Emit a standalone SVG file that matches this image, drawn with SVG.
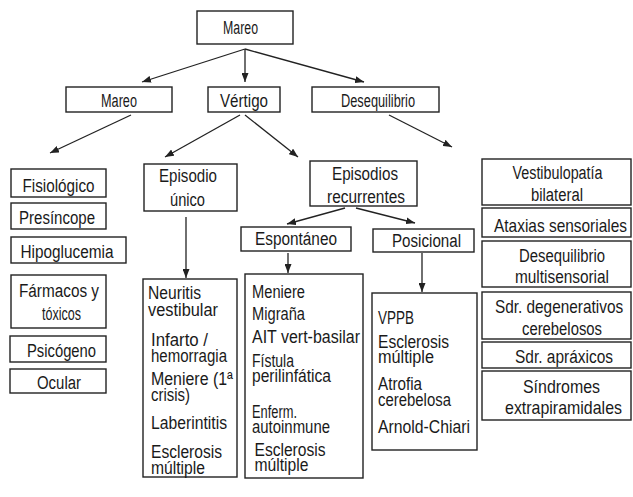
<svg xmlns="http://www.w3.org/2000/svg" width="633" height="497" viewBox="0 0 633 497">
<style>
rect{fill:#fff;stroke:#222;stroke-width:1.4}
text{font-family:"Liberation Sans",Arial,sans-serif;font-size:17.5px;fill:#1a1a1a}
.c{text-anchor:middle}
.h{font-size:18px}
#connectors line{stroke:#222;stroke-width:1.3;marker-end:url(#ah)}
</style>
<defs>
<marker id="ah" markerUnits="userSpaceOnUse" markerWidth="9" markerHeight="7" refX="9" refY="3.5" orient="auto">
<path d="M0,0 L9,3.5 L0,7 z" fill="#222"/>
</marker>
</defs>
<rect width="633" height="497" style="fill:#fff;stroke:none"/>
<g id="connectors">
<line x1="245" y1="49" x2="142" y2="82"/>
<line x1="245" y1="49" x2="245" y2="82"/>
<line x1="245" y1="49" x2="364" y2="82"/>
<line x1="131" y1="115" x2="50" y2="153"/>
<line x1="240" y1="115" x2="165" y2="157"/>
<line x1="245" y1="115" x2="298" y2="157"/>
<line x1="389" y1="115" x2="452" y2="147"/>
<line x1="186" y1="217" x2="186" y2="278"/>
<line x1="345" y1="208" x2="287" y2="224"/>
<line x1="356" y1="208" x2="415" y2="223"/>
<line x1="288" y1="253" x2="288" y2="273"/>
<line x1="422" y1="253" x2="422" y2="292"/>
</g>
<g id="n-mareo-top"><rect x="197" y="11" width="96" height="33"/><text class="h" x="223" y="34" textLength="35" lengthAdjust="spacingAndGlyphs">Mareo</text></g>
<g id="n-mareo"><rect x="66" y="87" width="106" height="25"/><text class="h c" x="119" y="107" textLength="36" lengthAdjust="spacingAndGlyphs">Mareo</text></g>
<g id="n-vertigo"><rect x="208" y="87" width="72" height="25"/><text class="h c" x="244" y="107" textLength="48" lengthAdjust="spacingAndGlyphs">Vértigo</text></g>
<g id="n-desequilibrio"><rect x="312" y="87" width="127" height="25"/><text class="h c" x="378" y="107" textLength="74" lengthAdjust="spacingAndGlyphs">Desequilibrio</text></g>
<g id="n-fisiologico"><rect x="11" y="169" width="95" height="28"/><text class="h c" x="58.5" y="192" textLength="72" lengthAdjust="spacingAndGlyphs">Fisiológico</text></g>
<g id="n-presincope"><rect x="11" y="203" width="95" height="26"/><text class="h c" x="57" y="224" textLength="76" lengthAdjust="spacingAndGlyphs">Presíncope</text></g>
<g id="n-hipoglucemia"><rect x="11" y="237" width="115" height="26"/><text class="h c" x="67" y="258" textLength="93" lengthAdjust="spacingAndGlyphs">Hipoglucemia</text></g>
<g id="n-farmacos"><rect x="11" y="275" width="95" height="53"/><text class="h c" x="59" y="297" textLength="80" lengthAdjust="spacingAndGlyphs">Fármacos y</text><text class="h c" x="61.5" y="320" textLength="39" lengthAdjust="spacingAndGlyphs">tóxicos</text></g>
<g id="n-psicogeno"><rect x="10" y="336" width="96" height="26"/><text class="h c" x="61.5" y="357" textLength="69" lengthAdjust="spacingAndGlyphs">Psicógeno</text></g>
<g id="n-ocular"><rect x="10" y="369" width="96" height="24"/><text class="h c" x="59" y="389" textLength="44" lengthAdjust="spacingAndGlyphs">Ocular</text></g>
<g id="n-episodio-unico"><rect x="144" y="164" width="93" height="47"/><text class="h c" x="188" y="182" textLength="58" lengthAdjust="spacingAndGlyphs">Episodio</text><text class="h c" x="187.5" y="206" textLength="35" lengthAdjust="spacingAndGlyphs">único</text></g>
<g id="n-episodios-recurrentes"><rect x="310" y="161" width="107" height="45"/><text class="h c" x="365" y="180" textLength="66" lengthAdjust="spacingAndGlyphs">Episodios</text><text class="h c" x="366" y="203" textLength="78" lengthAdjust="spacingAndGlyphs">recurrentes</text></g>
<g id="n-espontaneo"><rect x="241" y="227" width="110" height="24"/><text class="h c" x="296" y="245" textLength="82" lengthAdjust="spacingAndGlyphs">Espontáneo</text></g>
<g id="n-posicional"><rect x="373" y="229" width="101" height="23"/><text class="h c" x="426.5" y="247" textLength="69" lengthAdjust="spacingAndGlyphs">Posicional</text></g>
<g id="n-unico-list"><rect x="143" y="279" width="94" height="198"/>
<text x="148" y="299" textLength="53" lengthAdjust="spacingAndGlyphs">Neuritis</text>
<text x="148" y="316" textLength="70" lengthAdjust="spacingAndGlyphs">vestibular</text>
<text x="151" y="346" textLength="57" lengthAdjust="spacingAndGlyphs">Infarto /</text>
<text x="151" y="362" textLength="76" lengthAdjust="spacingAndGlyphs">hemorragia</text>
<text x="151" y="385" textLength="82" lengthAdjust="spacingAndGlyphs">Meniere (1ª</text>
<text x="151" y="401" textLength="39" lengthAdjust="spacingAndGlyphs">crisis)</text>
<text x="151" y="429" textLength="76" lengthAdjust="spacingAndGlyphs">Laberintitis</text>
<text x="151" y="458" textLength="71" lengthAdjust="spacingAndGlyphs">Esclerosis</text>
<text x="151" y="474" textLength="54" lengthAdjust="spacingAndGlyphs">múltiple</text>
</g>
<g id="n-espontaneo-list"><rect x="245" y="274" width="118" height="204"/>
<text x="252" y="298" textLength="53" lengthAdjust="spacingAndGlyphs">Meniere</text>
<text x="252" y="320" textLength="53" lengthAdjust="spacingAndGlyphs">Migraña</text>
<text x="252" y="343" textLength="108" lengthAdjust="spacingAndGlyphs">AIT vert-basilar</text>
<text x="252" y="367" textLength="42" lengthAdjust="spacingAndGlyphs">Fístula</text>
<text x="252" y="382" textLength="79" lengthAdjust="spacingAndGlyphs">perilinfática</text>
<text x="252" y="418" textLength="45" lengthAdjust="spacingAndGlyphs">Enferm.</text>
<text x="252" y="433" textLength="78" lengthAdjust="spacingAndGlyphs">autoinmune</text>
<text x="254.5" y="456" textLength="71" lengthAdjust="spacingAndGlyphs">Esclerosis</text>
<text x="254.5" y="471" textLength="54" lengthAdjust="spacingAndGlyphs">múltiple</text>
</g>
<g id="n-posicional-list"><rect x="372" y="293" width="105" height="157"/>
<text x="378" y="324" textLength="36" lengthAdjust="spacingAndGlyphs">VPPB</text>
<text x="378" y="348" textLength="71" lengthAdjust="spacingAndGlyphs">Esclerosis</text>
<text x="378" y="363" textLength="56" lengthAdjust="spacingAndGlyphs">múltiple</text>
<text x="378" y="390" textLength="44" lengthAdjust="spacingAndGlyphs">Atrofia</text>
<text x="378" y="406" textLength="73" lengthAdjust="spacingAndGlyphs">cerebelosa</text>
<text x="378" y="433" textLength="92" lengthAdjust="spacingAndGlyphs">Arnold-Chiari</text>
</g>
<g id="n-vestibulopatia"><rect x="482" y="159" width="149" height="46"/><text class="h c" x="557.5" y="179" textLength="90" lengthAdjust="spacingAndGlyphs">Vestibulopatía</text><text class="h c" x="557" y="201" textLength="52" lengthAdjust="spacingAndGlyphs">bilateral</text></g>
<g id="n-ataxias"><rect x="482" y="208" width="149" height="29"/><text class="h c" transform="translate(560.5,232) scale(0.858,1)">Ataxias sensoriales</text></g>
<g id="n-deseq-multi"><rect x="482" y="241" width="149" height="46"/><text class="h c" x="562" y="262" textLength="86" lengthAdjust="spacingAndGlyphs">Desequilibrio</text><text class="h c" x="562" y="283" textLength="94" lengthAdjust="spacingAndGlyphs">multisensorial</text></g>
<g id="n-sdr-degenerativos"><rect x="482" y="292" width="149" height="47"/><text class="h c" transform="translate(559,313) scale(0.855,1)">Sdr. degenerativos</text><text class="h c" x="562" y="335" textLength="80" lengthAdjust="spacingAndGlyphs">cerebelosos</text></g>
<g id="n-sdr-apraxicos"><rect x="482" y="342" width="149" height="26"/><text class="h c" x="564" y="363" textLength="98" lengthAdjust="spacingAndGlyphs">Sdr. apráxicos</text></g>
<g id="n-sindromes"><rect x="482" y="371" width="149" height="49"/><text class="h c" x="561.5" y="393" textLength="77" lengthAdjust="spacingAndGlyphs">Síndromes</text><text class="h c" transform="translate(563.5,414) scale(0.886,1)">extrapiramidales</text></g>
</svg>
